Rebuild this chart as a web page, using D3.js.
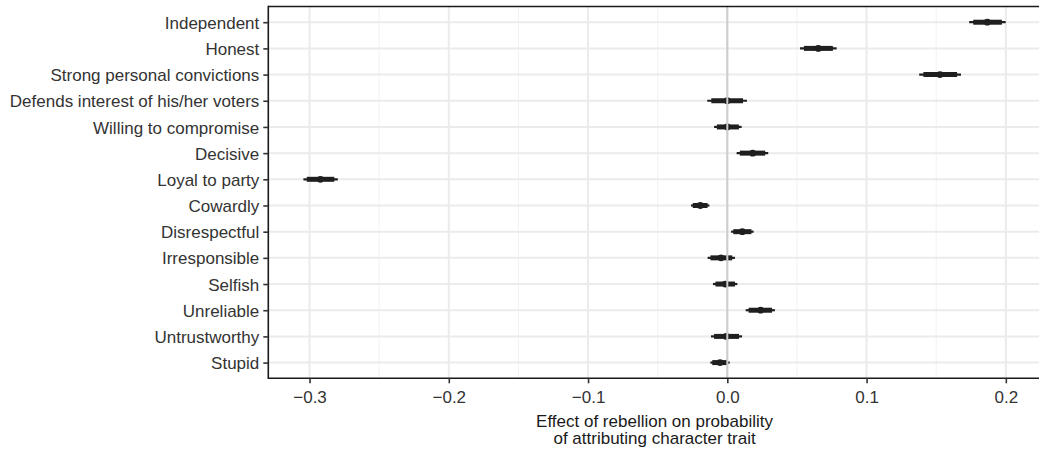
<!DOCTYPE html>
<html>
<head>
<meta charset="utf-8">
<script src="https://cdn.jsdelivr.net/npm/d3@7"></script>
<style>
html,body{margin:0;padding:0;background:#fff;}
svg{display:block;font-family:"Liberation Sans",Arial,Helvetica,sans-serif;}
</style>
</head>
<body>
<svg id="chart" width="1039" height="451"></svg>
<script>
const traits = ["Independent","Honest","Strong personal convictions","Defends interest of his/her voters","Willing to compromise","Decisive","Loyal to party","Cowardly","Disrespectful","Irresponsible","Selfish","Unreliable","Untrustworthy","Stupid"];
const estimate = [0.1867,0.0653,0.1527,0.0000,0.0000,0.0182,-0.2922,-0.0194,0.0108,-0.0045,-0.0014,0.0240,-0.0007,-0.0052];
const lower95 = [0.1737,0.0522,0.1378,-0.0144,-0.0095,0.0067,-0.3044,-0.0261,0.0027,-0.0141,-0.0103,0.0132,-0.0117,-0.0122];
const upper95 = [0.1999,0.0785,0.1678,0.0141,0.0103,0.0294,-0.2797,-0.0129,0.0189,0.0055,0.0072,0.0342,0.0106,0.0017];
const lower90 = [0.1766,0.0550,0.1408,-0.0115,-0.0075,0.0090,-0.3020,-0.0248,0.0043,-0.0121,-0.0085,0.0153,-0.0095,-0.0108];
const upper90 = [0.1972,0.0758,0.1650,0.0113,0.0083,0.0272,-0.2822,-0.0142,0.0173,0.0035,0.0055,0.0321,0.0084,0.0003];
const majorTicks = [-0.3,-0.2,-0.1,0.0,0.1,0.2];
const minorTicks = [-0.25,-0.15,-0.05,0.05,0.15];
const xTitle = ["Effect of rebellion on probability","of attributing character trait"];

const rows = traits.map((t,i)=>({trait:t, est:estimate[i], lo:lower95[i], hi:upper95[i], lo2:lower90[i], hi2:upper90[i]}));

const svg = d3.select("#chart");
const pLeft = 268.3, pRight = 1040.8, pTop = 6.5, pBottom = 378.3;

const lo = d3.min(lower95), hi = d3.max(upper95);
const pad = (hi - lo) * 0.05;
const x = d3.scaleLinear().domain([lo - pad, hi + pad]).range([pLeft, pRight]);
const y = d3.scalePoint().domain(traits).range([pTop, pBottom]).padding(0.6);

const g = svg.append("g");
g.append("rect").attr("x",pLeft).attr("y",pTop).attr("width",pRight-pLeft).attr("height",pBottom-pTop).attr("fill","#fff");

// minor grid
g.append("g").selectAll("line").data(minorTicks).join("line")
  .attr("x1",d=>x(d)).attr("x2",d=>x(d)).attr("y1",pTop).attr("y2",pBottom)
  .attr("stroke","#f2f2f2").attr("stroke-width",1);
// major grid
g.append("g").selectAll("line").data(majorTicks).join("line")
  .attr("x1",d=>x(d)).attr("x2",d=>x(d)).attr("y1",pTop).attr("y2",pBottom)
  .attr("stroke","#ebebeb").attr("stroke-width",2);
g.append("g").selectAll("line").data(traits).join("line")
  .attr("x1",pLeft).attr("x2",pRight).attr("y1",d=>y(d)).attr("y2",d=>y(d))
  .attr("stroke","#ebebeb").attr("stroke-width",2);

// intervals
const ink = "#1f1f1f";
const marks = g.append("g");
marks.selectAll("line.thin").data(rows).join("line").attr("class","thin")
  .attr("x1",d=>x(d.lo)).attr("x2",d=>x(d.hi)).attr("y1",d=>y(d.trait)).attr("y2",d=>y(d.trait))
  .attr("stroke",ink).attr("stroke-width",2.2);
marks.selectAll("line.thick").data(rows).join("line").attr("class","thick")
  .attr("x1",d=>x(d.lo2)).attr("x2",d=>x(d.hi2)).attr("y1",d=>y(d.trait)).attr("y2",d=>y(d.trait))
  .attr("stroke",ink).attr("stroke-width",5);
marks.selectAll("circle").data(rows).join("circle")
  .attr("cx",d=>x(d.est)).attr("cy",d=>y(d.trait)).attr("r",3.4).attr("fill",ink);

// zero line
g.append("line").attr("x1",x(0)).attr("x2",x(0)).attr("y1",pTop).attr("y2",pBottom)
  .attr("stroke","#cdcdcd").attr("stroke-width",2);

// panel border
g.append("line").attr("x1",pLeft).attr("x2",pRight).attr("y1",pTop).attr("y2",pTop).attr("stroke","#1a1a1a").attr("stroke-width",1.6);
g.append("line").attr("x1",pLeft).attr("x2",pLeft).attr("y1",pTop-0.8).attr("y2",pBottom+0.8).attr("stroke","#1a1a1a").attr("stroke-width",1.6);
g.append("line").attr("x1",pLeft).attr("x2",pRight).attr("y1",pBottom).attr("y2",pBottom).attr("stroke","#1a1a1a").attr("stroke-width",1.6);

// axes
const xAxis = d3.axisBottom(x).tickValues(majorTicks).tickSize(5).tickPadding(8)
  .tickFormat(d=>d3.format(".1f")(d).replace("-","\u2212"));
const xg = svg.append("g").attr("transform",`translate(0,${pBottom})`).call(xAxis);
xg.select(".domain").remove();
xg.selectAll(".tick line").attr("stroke","#333").attr("stroke-width",1.6);
xg.selectAll(".tick text").attr("fill","#333").attr("font-size",17).attr("dy",null).attr("y",25);

const yAxis = d3.axisLeft(y).tickSize(5).tickPadding(4);
const yg = svg.append("g").attr("transform",`translate(${pLeft},0)`).call(yAxis);
yg.select(".domain").remove();
yg.selectAll(".tick line").attr("stroke","#333").attr("stroke-width",1.6);
yg.selectAll(".tick text").attr("fill","#333").attr("font-size",17).attr("dy","0.36em");

// x title
svg.append("text").attr("x",(pLeft+pRight)/2).attr("y",427).attr("text-anchor","middle")
  .attr("font-size",17).attr("fill","#1a1a1a")
  .selectAll("tspan").data(xTitle).join("tspan")
  .attr("x",(pLeft+pRight)/2).attr("dy",(d,i)=>i===0?0:17).text(d=>d);
</script>
</body>
</html>
